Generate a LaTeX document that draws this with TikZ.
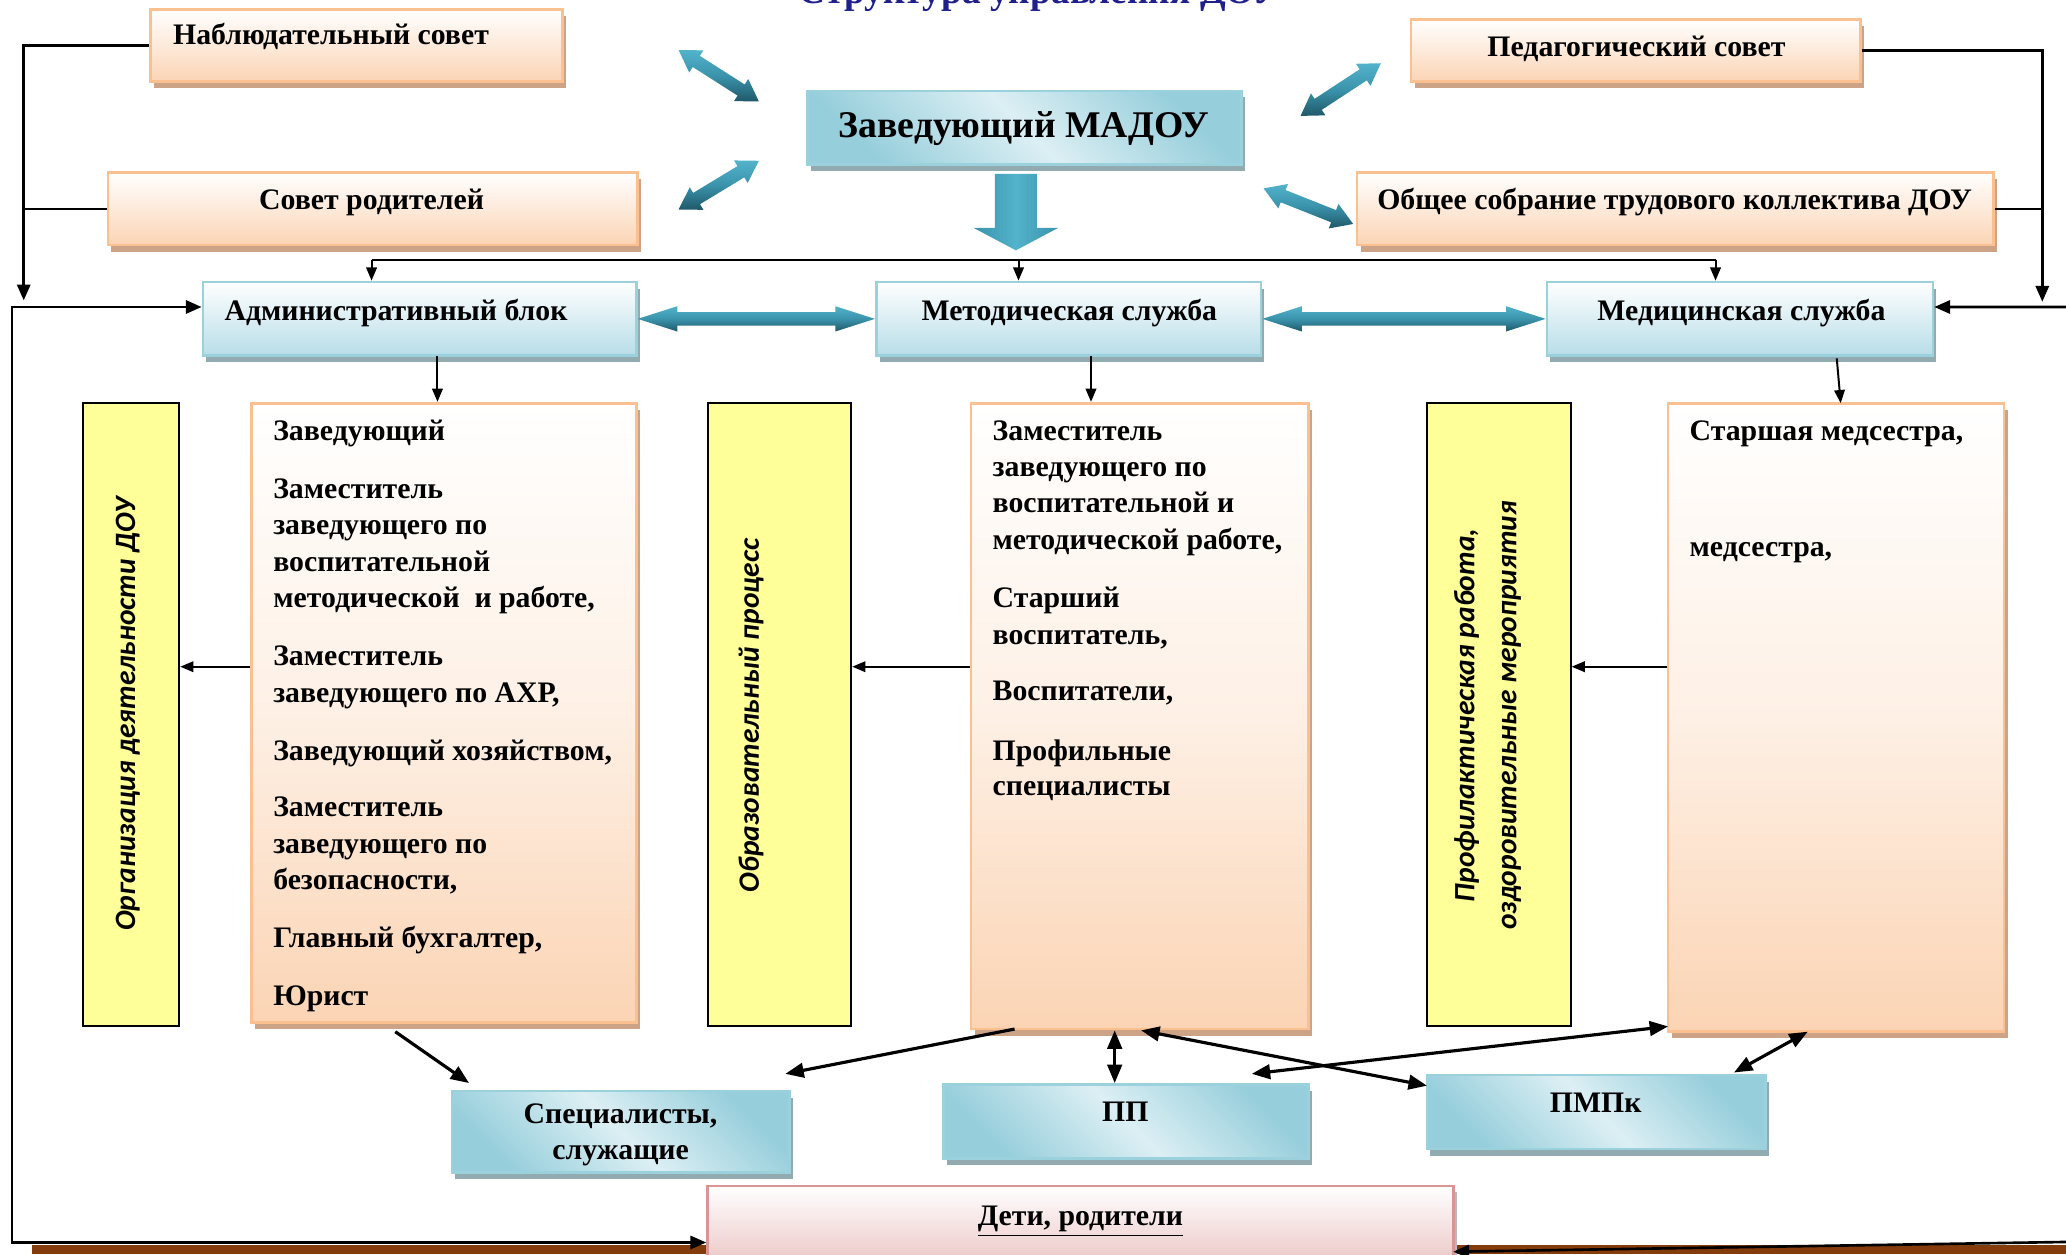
\documentclass[tikz,border=0pt]{standalone}
\usepackage{fontspec}
\setmainfont{Liberation Serif}
\newfontfamily\calibfont{Carlito}
\usetikzlibrary{arrows.meta,shadows,fit,calc}
\definecolor{peach}{HTML}{FBD4B4}
\definecolor{oborder}{HTML}{FAC08F}
\definecolor{oshadow}{HTML}{CDA387}
\definecolor{bluel}{HTML}{DCEFF4}
\definecolor{blued}{HTML}{96CEDB}
\definecolor{bborder}{HTML}{9BD0DD}
\definecolor{bshadow}{HTML}{92ABB1}
\definecolor{bvbot}{HTML}{B7DDE8}
\definecolor{ylw}{HTML}{FFFF99}
\definecolor{pinkb}{HTML}{E6B8B7}
\definecolor{pinkborder}{HTML}{D99594}
\definecolor{navy}{HTML}{20208C}
\definecolor{tealL}{HTML}{52B3CB}
\definecolor{tealM}{HTML}{3A93AB}
\definecolor{tealD}{HTML}{205869}
\definecolor{brownbar}{HTML}{843C0C}
\tikzset{
  boxbase/.style={inner sep=0pt, line width=1pt},
  osh/.style={drop shadow={shadow xshift=1.3pt, shadow yshift=-2.5pt, fill=oshadow, opacity=1}},
  bsh/.style={drop shadow={shadow xshift=1.3pt, shadow yshift=-2.5pt, fill=bshadow, opacity=1}},
  obox/.style={boxbase, draw=oborder, top color=white, bottom color=peach, osh},
  olist/.style={boxbase, draw=oborder, top color=white, bottom color=peach, middle color=peach!35!white, osh},
  hbox/.style={boxbase, draw=bborder, left color=blued, right color=blued, middle color=bluel, shading angle=135, bsh},
  vbox/.style={boxbase, draw=bborder, top color=white, bottom color=bvbot, bsh},
  ybox/.style={inner sep=0pt, draw=black, line width=0.8pt, fill=ylw},
  kbox/.style={boxbase, draw=pinkborder, top color=white, bottom color=pinkb, drop shadow={shadow xshift=1.3pt, shadow yshift=-2.5pt, fill=gray!55, opacity=1}},
  txt/.style={font=\bfseries\fontsize{11.3}{13.6}\selectfont, inner sep=0pt},
  bigtxt/.style={font=\bfseries\fontsize{14.3}{17}\selectfont, inner sep=0pt},
  ytxt/.style={font=\calibfont\bfseries\itshape\fontsize{11.2}{16}\selectfont, inner sep=0pt, rotate=90, align=center},
  lnk/.style={draw=black, line width=1pt},
  lnkarr/.style={lnk, -{Triangle[length=6pt,width=5pt]}},
  lnkdbl/.style={lnk, {Triangle[length=6pt,width=5pt]}-{Triangle[length=6pt,width=5pt]}},
  tline/.style={draw=black, line width=0.75pt},
  tarr/.style={tline, -{Triangle[length=5pt,width=4pt]}},
  botarr/.style={draw=black, line width=1.2pt, -{Triangle[length=7pt,width=5.5pt]}},
  botdbl/.style={draw=black, line width=1.2pt, {Triangle[length=7pt,width=5.5pt]}-{Triangle[length=7pt,width=5.5pt]}},
}
% teal block double arrow between two named coordinates
% #3 shaft half width, #4 head half width, #5 head length
\newcommand\tealarrow[5]{%
  \path let \p1=(#1), \p2=(#2) in
    \pgfextra{\pgfmathsetmacro\tdAng{atan2(\y2-\y1,\x2-\x1)}%
      \pgfmathsetmacro\tdLen{veclen(\x2-\x1,\y2-\y1)}%
      \global\let\tdAngG\tdAng\global\let\tdLenG\tdLen};
  \begin{scope}[shift={(#1)}, rotate=\tdAngG]
    \shade[top color=tealL, bottom color=tealD, middle color=tealM]
      (0pt,0pt) -- (#5,#4) -- (#5,#3) -- ({\tdLenG pt-#5},#3) -- ({\tdLenG pt-#5},#4)
      -- (\tdLenG pt,0pt) -- ({\tdLenG pt-#5},-#4) -- ({\tdLenG pt-#5},-#3)
      -- (#5,-#3) -- (#5,-#4) -- cycle;
  \end{scope}}
\begin{document}
\begin{tikzpicture}[x=0.5pt,y=-0.5pt]
\useasboundingbox (0,0) rectangle (1568,952);
\clip (0,0) rectangle (1568,952);

% title (cut at the top edge, as in the reference)
\node[font=\bfseries\fontsize{14.2}{17}\selectfont, text=navy, anchor=base, inner sep=0pt] (title) at (789,2.5) {Структура управления ДОУ};

% top boxes
\node[obox, fit={(114,7) (427,62)}] (nab) {};
\node[obox, fit={(1071,15) (1412,62)}] (ped) {};
\node[obox, fit={(82,131) (484,186)}] (sov) {};
\node[obox, fit={(1030,131) (1513,186)}] (obs) {};
\node[hbox, fit={(613,69) (942,125)}] (head) {};

\node[txt, anchor=base west] (tnab) at (131,34) {Наблюдательный совет};
\node[txt, anchor=base] (tped) at (1242,43) {Педагогический совет};
\node[txt, anchor=base] (tsov) at (282,159) {Совет родителей};
\node[txt, anchor=base] (tobs) at (1271,159) {Общее собрание трудового коллектива ДОУ};
\node[bigtxt, anchor=base] (thead) at (777,104) {Заведующий МАДОУ};

% service boxes
\node[vbox, fit={(154,214) (483,270)}] (adm) {};
\node[vbox, fit={(665,214) (957,270)}] (met) {};
\node[vbox, fit={(1174,214) (1467,270)}] (med) {};
\node[txt, anchor=base west] (tadm) at (170,243) {Административный блок};
\node[txt, anchor=base west] (tmet) at (699,243) {Методическая служба};
\node[txt, anchor=base west] (tmed) at (1212,243) {Медицинская служба};

% yellow boxes
\node[ybox, fit={(63,306) (136,779)}] (ya) {};
\node[ybox, fit={(537,306) (646,779)}] (yb) {};
\node[ybox, fit={(1083,306) (1192,779)}] (yc) {};
\node[ytxt] (tya) at (97,542) {Организация деятельности ДОУ};
\node[ytxt] (tyb) at (570,543) {Образовательный процесс};
\node[ytxt] (tyc) at (1129,543) {Профилактическая работа,\\оздоровительные мероприятия};

% list boxes
\node[olist, fit={(191,306) (483,776)}] (admlist) {};
\node[olist, fit={(737,306) (993,781)}] (metlist) {};
\node[olist, fit={(1266,306) (1521,783)}] (medlist) {};

\foreach \t/\yy [count=\i] in {Заведующий/334, Заместитель/378, заведующего по/406,
   воспитательной/434, {методической~ и работе,}/461, Заместитель/505,
   {заведующего по АХР,}/533, {Заведующий хозяйством,}/577, Заместитель/620,
   заведующего по/648, {безопасности,}/675, {Главный бухгалтер,}/719, Юрист/763}
  \node[txt, anchor=base west] (al\i) at (207,\yy) {\t};
\foreach \t/\yy [count=\i] in {Заместитель/334, заведующего по/362, воспитательной и/389,
   {методической работе,}/417, Старший/461, {воспитатель,}/489, {Воспитатели,}/532,
   Профильные/577, специалисты/604}
  \node[txt, anchor=base west] (ml\i) at (753,\yy) {\t};
\node[txt, anchor=base west] (dl1) at (1282,334) {Старшая медсестра,};
\node[txt, anchor=base west] (dl2) at (1282,422) {медсестра,};

% bottom boxes
\node[hbox, fit={(343,828) (599,890)}] (spec) {};
\node[hbox, fit={(716,823) (993,879)}] (pp) {};
\node[hbox, fit={(1083,816) (1340,872)}] (pmpk) {};
\node[txt, align=center] (tspec) at (471,861) {Специалисты,\\служащие};
\node[txt, anchor=base] (tpp) at (854,851) {ПП};
\node[txt, anchor=base] (tpmpk) at (1211,844) {ПМПк};

% brown bars under the bottom line
\fill[brownbar] (24,945) rectangle (537,952);
\fill[brownbar] (1103,945) rectangle (1568,952);

\node[kbox, fit={(537,900) (1103,975)}] (kids) {};
\node[txt, anchor=base] (tkids) at (820,930) {\underline{Дети, родители}};

% teal block arrows
\coordinate (d1a) at (515,38);  \coordinate (d1b) at (576,77);
\coordinate (d2a) at (515,159); \coordinate (d2b) at (576,122);
\coordinate (d3a) at (1048,48); \coordinate (d3b) at (987,88);
\coordinate (d4a) at (959,143); \coordinate (d4b) at (1027,170);
\coordinate (h1a) at (adm.east |- 0,242); \coordinate (h1b) at (met.west |- 0,242);
\coordinate (h2a) at (met.east |- 0,242); \coordinate (h2b) at (med.west |- 0,242);
\tealarrow{d1a}{d1b}{2.5pt}{5pt}{8pt}
\tealarrow{d2a}{d2b}{2.5pt}{5pt}{8pt}
\tealarrow{d3a}{d3b}{2.5pt}{5pt}{8pt}
\tealarrow{d4a}{d4b}{2.5pt}{5pt}{8pt}
\tealarrow{h1a}{h1b}{2.6pt}{4.8pt}{15pt}
\tealarrow{h2a}{h2b}{2.6pt}{4.8pt}{15pt}

% big down arrow from the head
\shade[left color=tealM, right color=tealM, middle color=tealL]
  (755,132) -- (787,132) -- (787,173) -- (803,173) -- (771,190) -- (739,173) -- (755,173) -- cycle;

% bus
\coordinate (busL) at (282,197); \coordinate (busM) at (773,197); \coordinate (busR) at (1302,197);
\draw[tline] (busL) -- (busR);
\draw[tarr] (busL) -- (busL |- adm.north);
\draw[tarr] (busM) -- (busM |- met.north);
\draw[tarr] (busR) -- (busR |- med.north);

% left loop
\coordinate (lj) at (18,228);
\draw[lnkarr] (nab.west) -| (lj);
\draw[lnk] (sov.west) -- (sov.west -| lj);
\coordinate (lA) at (9,233); \coordinate (lB) at (9,943);
\draw[lnkdbl] (adm.west |- lA) -- (lA) -- (lB) -- (kids.west |- lB);

% right loop
\coordinate (rj) at (1550,229);
\draw[lnkarr] (ped.east) -| (rj);
\draw[lnk] (obs.east) -- (obs.east -| rj);
\coordinate (rA) at (1580,233); \coordinate (rB) at (1580,942.4); \coordinate (kR) at (1103,950);
\draw[lnkdbl] (med.east |- rA) -- (rA) -- (rB) -- (kR);

% service box -> list box
\coordinate (sa) at (332,270); \coordinate (sm) at (828,270); \coordinate (sd) at (1394,272);
\draw[tarr] (sa) -- (sa |- admlist.north);
\draw[tarr] (sm) -- (sm |- metlist.north);
\draw[tarr] (sd) -- (1397,306);

% list box -> yellow box
\coordinate (yl) at (0,506);
\draw[tarr] (yl -| admlist.west) -- (yl -| ya.east);
\draw[tarr] (yl -| metlist.west) -- (yl -| yb.east);
\draw[tarr] (yl -| medlist.west) -- (yl -| yc.east);

% bottom connectors
\coordinate (b1s) at (300,783);  \coordinate (b1e) at (356,822);
\coordinate (b2s) at (770,781);  \coordinate (b2e) at (596,815);
\coordinate (b3s) at (846,782);  \coordinate (b3e) at (846,822);
\coordinate (b4s) at (866,782);  \coordinate (b4e) at (1083,824);
\coordinate (b5s) at (950,815);  \coordinate (b5e) at (1266,779);
\coordinate (b6s) at (1316,814); \coordinate (b6e) at (1372,783);
\draw[botarr] (b1s) -- (b1e);
\draw[botarr] (b2s) -- (b2e);
\draw[botdbl] (b3s) -- (b3e);
\draw[botdbl] (b4s) -- (b4e);
\draw[botdbl] (b5s) -- (b5e);
\draw[botdbl] (b6s) -- (b6e);
\end{tikzpicture}
\end{document}
